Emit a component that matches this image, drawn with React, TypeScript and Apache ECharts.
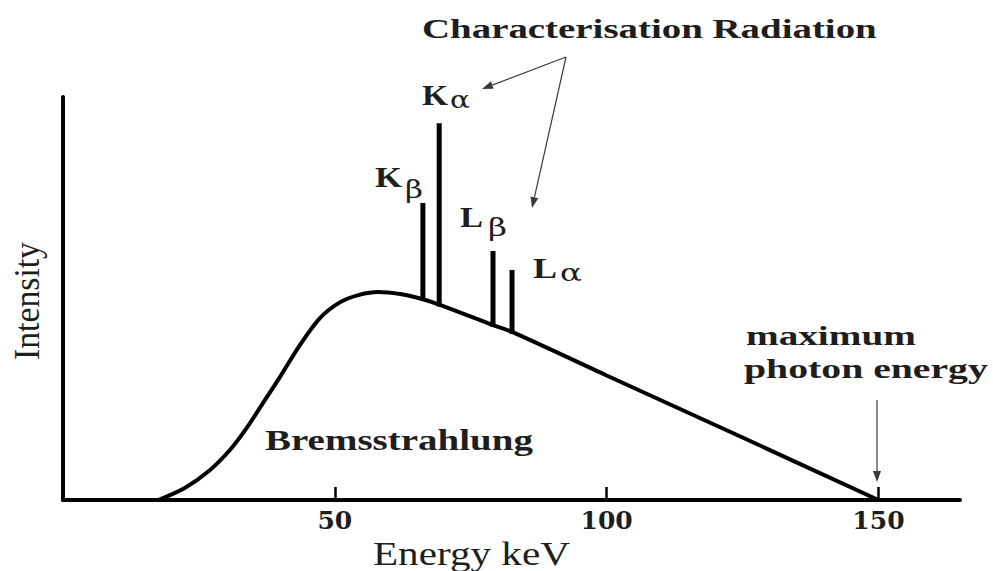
import React, { useEffect, useRef } from "react";
import * as echarts from "echarts";

// Bremsstrahlung continuum (keV, relative intensity)
const energies = [17.5, 22.4, 27.0, 30.7, 33.8, 36.8, 39.9, 43.6, 47.3, 51.0, 54.5, 58.0, 62.0, 65.7, 69.2, 79.1, 82.6, 100, 125, 150];
const intensity = [0, 3.0, 7.4, 12.4, 17.9, 24.1, 30.5, 38.5, 45.2, 49.1, 50.9, 51.6, 51.1, 50.0, 48.5, 43.4, 41.7, 30.9, 15.5, 0];

// Characteristic lines
const peakNames = ["Kβ", "Kα", "Lβ", "Lα"];
const peakEnergy = [66.2, 69.2, 79.1, 82.6];
const peakBase = [49.9, 48.5, 43.4, 41.7];
const peakTop = [73.7, 93.5, 61.8, 57.1];

// Axis tick labels
const tickValues = [50, 100, 150];

const SERIF = "'Liberation Serif', 'Times New Roman', serif";
const TEXT_COLOR = "#1e1e1e";

function measure(text: string, font: string): number {
  const c = document.createElement("canvas").getContext("2d");
  if (!c) return text.length * 10;
  c.font = font;
  return c.measureText(text).width || 1;
}

type Fit = {
  text: string;
  left: number;
  right: number;
  cy: number;
  size: number;
  weight?: string;
  family?: string;
  rotate?: number;
};

function fitText(f: Fit): any {
  const weight = f.weight || "normal";
  const family = f.family || SERIF;
  const font = `${weight} ${f.size}px ${family}`;
  const w = measure(f.text, font);
  const sx = (f.right - f.left) / w;
  if (f.rotate) {
    return {
      type: "text",
      x: f.cy,
      y: (f.left + f.right) / 2,
      rotation: f.rotate,
      scaleX: sx,
      style: {
        text: f.text,
        fill: TEXT_COLOR,
        font,
        align: "center",
        verticalAlign: "middle",
        textAlign: "center",
        textVerticalAlign: "middle",
      },
    };
  }
  return {
    type: "text",
    x: f.left,
    y: f.cy,
    scaleX: sx,
    style: {
      text: f.text,
      fill: TEXT_COLOR,
      font,
      align: "left",
      verticalAlign: "middle",
      textAlign: "left",
      textVerticalAlign: "middle",
    },
  };
}

function arrow(x1: number, y1: number, x2: number, y2: number): any[] {
  const dx = x2 - x1;
  const dy = y2 - y1;
  const len = Math.sqrt(dx * dx + dy * dy);
  const ux = dx / len;
  const uy = dy / len;
  const L = 11;
  const W = 4;
  const bx = x2 - ux * L;
  const by = y2 - uy * L;
  return [
    {
      type: "line",
      shape: { x1, y1, x2: bx, y2: by },
      style: { stroke: "#3a3a3a", lineWidth: 1.2 },
    },
    {
      type: "polygon",
      shape: {
        points: [
          [x2, y2],
          [bx - uy * W, by + ux * W],
          [bx + uy * W, by - ux * W],
        ],
      },
      style: { fill: "#3a3a3a" },
    },
  ];
}

export default function App() {
  const ref = useRef<HTMLDivElement>(null);

  useEffect(() => {
    if (!ref.current) return;
    const chart = echarts.init(ref.current, undefined, { renderer: "svg" });

    const curve = energies.map((e, i) => [e, intensity[i]]);
    const peakSeries = peakNames.map((name, i) => ({
      type: "line",
      name,
      data: [
        [peakEnergy[i], peakBase[i] - 0.5],
        [peakEnergy[i], peakTop[i]],
      ],
      showSymbol: false,
      symbol: "none",
      lineStyle: { color: "#000", width: 5, cap: "butt" },
      z: 4,
      silent: true,
    }));

    const greek = "'DejaVu Serif', serif";
    const graphics: any[] = [
      fitText({ text: "Characterisation Radiation", left: 422, right: 877, cy: 29, size: 27, weight: "bold" }),
      // K alpha
      fitText({ text: "K", left: 422, right: 448, cy: 95, size: 29, weight: "bold" }),
      fitText({ text: "α", left: 450, right: 470, cy: 99.5, size: 24, family: greek }),
      // K beta
      fitText({ text: "K", left: 375, right: 402, cy: 177.5, size: 29, weight: "bold" }),
      fitText({ text: "β", left: 405, right: 423, cy: 190, size: 24, family: greek }),
      // L beta
      fitText({ text: "L", left: 460, right: 483, cy: 217, size: 29, weight: "bold" }),
      fitText({ text: "β", left: 488, right: 507, cy: 228, size: 24, family: greek }),
      // L alpha
      fitText({ text: "L", left: 533, right: 557, cy: 268, size: 29, weight: "bold" }),
      fitText({ text: "α", left: 560, right: 582, cy: 273, size: 24, family: greek }),
      fitText({ text: "Bremsstrahlung", left: 265, right: 533, cy: 440, size: 29, weight: "bold" }),
      fitText({ text: "maximum", left: 746, right: 916, cy: 335.5, size: 28, weight: "bold" }),
      fitText({ text: "photon energy", left: 744, right: 988, cy: 368.5, size: 28, weight: "bold" }),
      fitText({ text: "Energy keV", left: 373, right: 570, cy: 554, size: 33 }),
      fitText({ text: "Intensity", left: 242, right: 360, cy: 27, size: 35, rotate: Math.PI / 2 }),
      ...arrow(566, 57, 482, 89),
      ...arrow(566, 57, 532, 208),
      ...arrow(877, 400, 877, 482),
    ];

    chart.setOption({
      animation: false,
      backgroundColor: "#ffffff",
      grid: { left: 63, right: 33, top: 97, bottom: 71 },
      xAxis: {
        type: "value",
        min: 0,
        max: 165,
        interval: 50,
        axisLine: { show: true, onZero: false, lineStyle: { color: "#000", width: 4 } },
        axisTick: {
          show: true,
          inside: true,
          length: 13,
          customValues: tickValues,
          lineStyle: { color: "#000", width: 2.5 },
        },
        axisLabel: {
          show: true,
          customValues: tickValues,
          margin: 8,
          color: TEXT_COLOR,
          fontFamily: "'DejaVu Serif', serif",
          fontWeight: "bold",
          fontSize: 25,
          formatter: (v: number) => String(v),
        },
        splitLine: { show: false },
      },
      yAxis: {
        type: "value",
        min: 0,
        max: 100,
        axisLine: { show: true, onZero: false, lineStyle: { color: "#000", width: 4 } },
        axisTick: { show: false },
        axisLabel: { show: false },
        splitLine: { show: false },
      },
      series: [
        {
          type: "line",
          name: "Bremsstrahlung",
          data: curve,
          smooth: 0.3,
          showSymbol: false,
          symbol: "none",
          lineStyle: { color: "#000", width: 4 },
          z: 3,
          silent: true,
        },
        ...peakSeries,
      ],
      graphic: graphics,
    });

    return () => {
      chart.dispose();
    };
  }, []);

  return (
    <div
      ref={ref}
      style={{ position: "fixed", left: 0, top: 0, width: 993, height: 571, background: "#fff" }}
    />
  );
}
